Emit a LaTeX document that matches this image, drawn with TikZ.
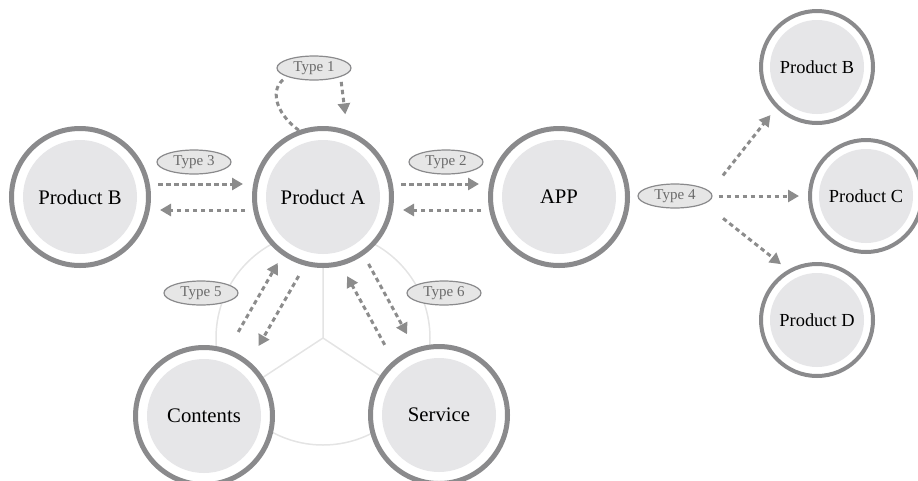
\documentclass[tikz,border=0pt]{standalone}
\usepackage{fontspec}
\setmainfont{Liberation Serif}
\usetikzlibrary{arrows.meta,shapes.geometric,backgrounds}

\definecolor{ringgray}{HTML}{8A8A8C}
\definecolor{discgray}{HTML}{E6E6E8}
\definecolor{flowgray}{HTML}{8C8C8C}
\definecolor{tagtext}{HTML}{6A6A6A}
\definecolor{tagfill}{HTML}{E6E6E6}
\definecolor{hubgray}{HTML}{E4E4E4}

\tikzset{
    bigprod/.style={circle,
        draw=ringgray,
        line width=5pt,
        fill=white,
        minimum size=137pt,
        inner sep=0pt,
        font=\rmfamily\fontsize{20.7}{22}\selectfont,
        path picture={\fill[discgray] (path picture bounding box.center) circle (57pt);}},
    smallprod/.style={circle,
        draw=ringgray,
        line width=4pt,
        fill=white,
        minimum size=112pt,
        inner sep=0pt,
        font=\rmfamily\fontsize{18.4}{20}\selectfont,
        path picture={\fill[discgray] (path picture bounding box.center) circle (47pt);}},
    typetag/.style={ellipse,
        draw=ringgray,
        line width=1.2pt,
        fill=tagfill,
        text=tagtext,
        minimum width=74pt,
        minimum height=24pt,
        inner sep=0pt,
        font=\rmfamily\fontsize{15}{15}\selectfont},
    flow/.style={draw=flowgray,
        line width=3pt,
        dash pattern=on 4.5pt off 3.5pt,
        -{Triangle[length=11pt,width=12pt]},
        shorten <=7pt,
        shorten >=9pt}
}

\begin{document}
\begin{tikzpicture}[x=1pt,y=-1pt]

    \useasboundingbox (0,0) rectangle (918,480);

    % Products around the hub
    \node[bigprod] (pa) at (323,197) {Product A};
    \node[bigprod] (pbl) at (80,197) {Product B};
    \node[bigprod] (app) at (559,197) {APP};
    \node[bigprod] (ct) at (204,416) {Contents};
    \node[bigprod] (sv) at (439,415) {Service};

    % Products on the right
    \node[smallprod] (pbr) at (817,67) {Product B};
    \node[smallprod] (pc) at (866,196) {Product C};
    \node[smallprod] (pd) at (817,320) {Product D};

    % Type labels
    \node[typetag] (t1) at (314,68) {Type 1};
    \node[typetag] (t2) at (446,162) {Type 2};
    \node[typetag] (t3) at (194,162) {Type 3};
    \node[typetag] (t4) at (675,196) {Type 4};
    \node[typetag] (t5) at (201,293) {Type 5};
    \node[typetag] (t6) at (444,293) {Type 6};

    % Faint hub behind the three bottom nodes
    \coordinate (hub) at (323,338);
    \begin{scope}[on background layer]
        \draw[hubgray, line width=1.5pt] (hub) circle (107pt);
        \draw[hubgray, line width=1.5pt] (hub) -- (pa.center)
            (hub) -- (ct.center)
            (hub) -- (sv.center);
    \end{scope}

    % Type 1: loop on product A
    \draw[flow, -, shorten <=0pt, shorten >=3pt] (pa.110)
        .. controls (274,112) and (270,88) .. (t1.south west);
    \draw[flow, shorten <=5pt, shorten >=16pt] (t1.south east) -- (pa.70);

    % Type 3
    \draw[flow] ([yshift=13pt]pbl.east) -- ([yshift=13pt]pa.west);
    \draw[flow] ([yshift=-13pt]pa.west) -- ([yshift=-13pt]pbl.east);

    % Type 2
    \draw[flow] ([yshift=13pt]pa.east) -- ([yshift=13pt]app.west);
    \draw[flow] ([yshift=-13pt]app.west) -- ([yshift=-13pt]pa.east);

    % Type 4
    \draw[flow] ([shift={(6,-15)}]t4.east) -- (pbr.225);
    \draw[flow, shorten <=6pt] (t4.east) -- (pc.west);
    \draw[flow] ([shift={(5,18)}]t4.east) -- (pd.120);

    % Type 5
    \draw[flow, shorten <=20pt] (ct.70) -- (pa.235);
    \draw[flow, shorten <=12pt, shorten >=18pt] (pa.255) -- (ct.50);

    % Type 6
    \draw[flow, shorten <=18pt, shorten >=12pt] (sv.130) -- (pa.285);
    \draw[flow, shorten <=10pt, shorten >=16pt] (pa.305) -- (sv.110);

\end{tikzpicture}
\end{document}
